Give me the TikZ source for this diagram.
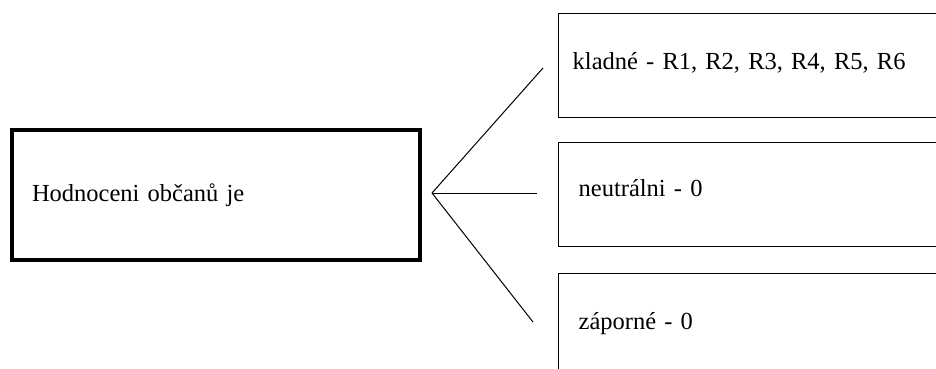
\documentclass[tikz,border=0pt]{standalone}
\usepackage{fontspec}
\setmainfont{Liberation Serif}
\begin{document}
\begin{tikzpicture}[x=1pt,y=-1pt,
  txt/.style={font=\fontsize{24.5}{28}\selectfont},
  srcbox/.style={draw, line width=4pt, anchor=north west, minimum width=408pt, minimum height=130pt, text width=368pt, align=left, inner xsep=20pt, inner ysep=0pt, txt},
  catbox/.style={draw, line width=1.4pt, anchor=north west, minimum width=400pt, text width=360pt, align=left, inner ysep=0pt, txt},
  conn/.style={line width=1pt}]
\useasboundingbox (0,0) rectangle (936,369);
\node[srcbox] (src) at (10,128) {Hodnoceni občanů je};
\node[catbox, minimum height=104pt, inner xsep=14pt, text width=372pt, text depth=9pt] (pos) at (558,13) {kladné - R1, R2, R3, R4, R5, R6};
\node[catbox, minimum height=104pt, inner xsep=19pt, text depth=13pt] (neu) at (558,142) {neutrálni - 0};
\node[catbox, minimum height=110pt, inner xsep=19pt, text depth=15pt] (neg) at (558,273) {záporné - 0};
\coordinate (j) at (432,193);
\coordinate (e1) at (543,68);
\coordinate (e2) at (537,193);
\coordinate (e3) at (533,322);
\draw[conn] (j) -- (e1);
\draw[conn] (j) -- (e2);
\draw[conn] (j) -- (e3);
\end{tikzpicture}
\end{document}
